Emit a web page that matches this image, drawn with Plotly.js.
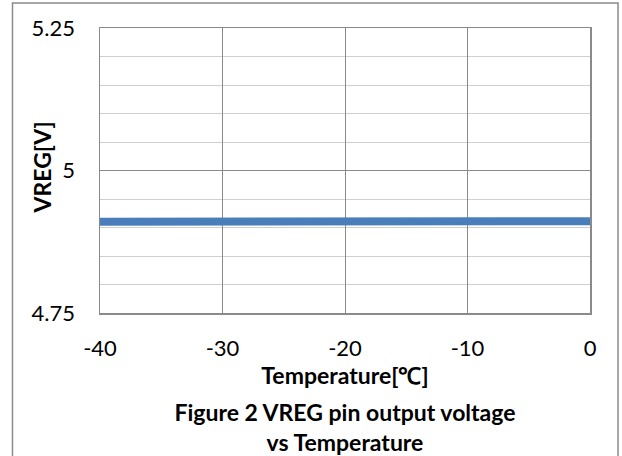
<!DOCTYPE html>
<html>
<head>
<meta charset="utf-8">
<script src="https://cdn.plot.ly/plotly-3.0.1.min.js"></script>
<style>
html,body{margin:0;padding:0;background:#fff;}
#chart{width:622px;height:456px;}
</style>
</head>
<body>
<div id="chart"></div>
<script>
// Data
const temperature = [-40, -30, -20, -10, 0];
const vreg = [4.910, 4.910, 4.909, 4.909, 4.911];
const xTickVals = [-40, -30, -20, -10, 0];
const xTickText = ["-40", "-30", "-20", "-10", "0"];
const yTickVals = [4.75, 5, 5.25];
const yTickText = ["4.75", "5", "5.25"];
const xTitle = "Temperature[℃]";
const yTitle = "VREG[V]";
const caption = "Figure 2 VREG pin output voltage<br>vs Temperature";

const FONT = "Lato, 'Open Sans', sans-serif";

const trace = {
  x: temperature,
  y: vreg,
  type: "scatter",
  mode: "lines",
  line: {color: "#4a7ebb", width: 8},
  cliponaxis: false,
  hoverinfo: "skip"
};

const layout = {
  width: 622,
  height: 456,
  margin: {l: 100, r: 32, t: 28, b: 143},
  paper_bgcolor: "#ffffff",
  plot_bgcolor: "#ffffff",
  showlegend: false,
  font: {family: FONT, color: "#000"},
  title: {
    text: caption,
    font: {family: FONT, size: 23, color: "#000", weight: "bold"},
    xref: "paper", x: 0.5, xanchor: "center",
    yref: "container", y: 1 - 421/456, yanchor: "middle"
  },
  xaxis: {
    range: [-40, 0],
    tickmode: "array", tickvals: xTickVals, ticktext: xTickText,
    showgrid: true, gridcolor: "#8a8a8a", gridwidth: 1,
    showline: true, linecolor: "#8a8a8a", linewidth: 1.5, mirror: true,
    zeroline: false,
    ticks: "",
    ticklabelstandoff: 15,
    tickfont: {family: FONT, size: 22, color: "#000"},
    title: {
      text: xTitle,
      font: {family: FONT, size: 23, color: "#000", weight: "bold"},
      standoff: 5
    }
  },
  yaxis: {
    range: [4.75, 5.25],
    tickmode: "array",
    tickvals: yTickVals,
    ticktext: yTickText,
    showgrid: true, gridcolor: "#8a8a8a", gridwidth: 1,
    minor: {dtick: 0.05, tick0: 4.75, showgrid: true, gridcolor: "#cfcfcf", gridwidth: 1, ticks: ""},
    showline: true, linecolor: "#8a8a8a", linewidth: 1.5, mirror: true,
    zeroline: false,
    ticks: "",
    ticklabelstandoff: 19,
    tickfont: {family: FONT, size: 22, color: "#000"}
  },
  annotations: [{
    text: yTitle,
    textangle: -90,
    xref: "paper", yref: "paper",
    x: (41 - 100) / 490, y: (313 - 167.5) / 285,
    xanchor: "center", yanchor: "middle",
    showarrow: false,
    font: {family: FONT, size: 23, color: "#000", weight: "bold"}
  }],
  shapes: [{
    type: "rect",
    xref: "paper", yref: "paper",
    x0: (12.5 - 100) / 490, x1: (618 - 100) / 490,
    y0: (313 - 480) / 285, y1: (313 - 3) / 285,
    line: {color: "#8a8a8a", width: 1.5},
    fillcolor: "rgba(0,0,0,0)",
    layer: "below"
  }]
};

Plotly.newPlot("chart", [trace], layout, {displayModeBar: false, staticPlot: true});
</script>
</body>
</html>
